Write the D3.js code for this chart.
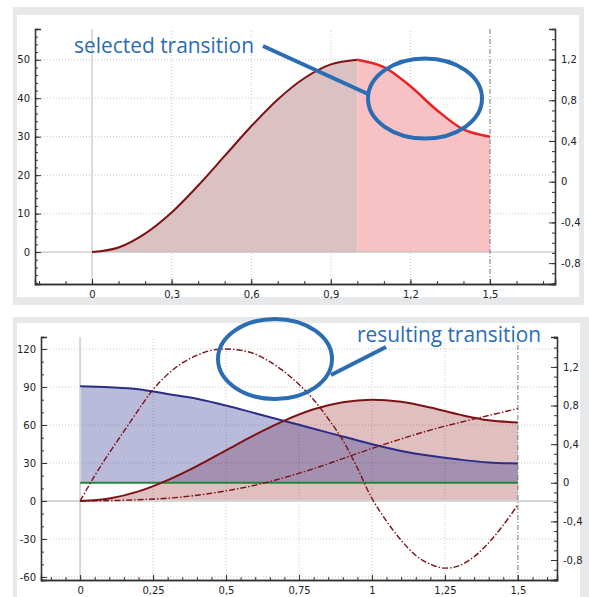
<!DOCTYPE html>
<html>
<head>
<meta charset="utf-8">
<script src="https://cdn.jsdelivr.net/npm/d3@7"></script>
<style>
  body { margin: 0; background: #fff; }
  svg { display: block; }
  .tick text { font-family: "DejaVu Sans", sans-serif; font-size: 10px; fill: #222; }
</style>
</head>
<body>
<script>
'use strict';

// top chart: selected transition (left axis units)
const topX = [0, 0.1, 0.2, 0.3, 0.4, 0.5, 0.6, 0.7, 0.8, 0.9, 1.0];
const topY = [0, 1.2, 4.8, 10.3, 17.3, 25, 32.7, 39.7, 45.2, 48.8, 50];
const selX = [1.0, 1.1, 1.2, 1.3, 1.4, 1.5];
const selY = [50, 48.1, 43.1, 36.9, 31.9, 30];

const topXTicks = [0, 0.3, 0.6, 0.9, 1.2, 1.5];
const topLeftTicks = [0, 10, 20, 30, 40, 50];
const topRightTicks = [-0.8, -0.4, 0, 0.4, 0.8, 1.2];

// bottom chart: resulting transition
const botX = [0, 0.1, 0.2, 0.3, 0.4, 0.5, 0.6, 0.7, 0.8, 0.9, 1.0, 1.1, 1.2, 1.3, 1.4, 1.5];
const botPos = [0, 2, 7.6, 16.5, 27.6, 40, 52.4, 63.5, 72.4, 78, 80, 78.3, 73.8, 68.2, 63.7, 62];
const botSlow = [0, 0.3, 1, 2.2, 4.5, 8, 12.5, 18.5, 25.5, 33.5, 41.5, 49, 56, 62, 67.5, 73];
const botBlue = [1.0, 0.99, 0.97, 0.92, 0.87, 0.80, 0.72, 0.64, 0.56, 0.48, 0.40, 0.33, 0.28, 0.24, 0.21, 0.20]; // right axis
const fastX = [0, 0.05, 0.1, 0.15, 0.2, 0.25, 0.3, 0.35, 0.4, 0.45, 0.5, 0.55, 0.6, 0.65, 0.7, 0.75,
               0.8, 0.85, 0.9, 0.95, 1.0, 1.05, 1.1, 1.15, 1.2, 1.25, 1.3, 1.35, 1.4, 1.45, 1.5];
const fastY = [0, 20, 38, 55, 72, 88, 100, 109, 115, 119, 120, 119, 116, 110, 102, 92,
               80, 65, 48, 26, 2, -16, -31, -43, -50, -53, -51, -44, -33, -19, -3];
const greenX = [0, 1.5];
const greenY = [0, 0]; // right axis

const botXTicks = [0, 0.25, 0.5, 0.75, 1, 1.25, 1.5];
const botLeftTicks = [-60, -30, 0, 30, 60, 90, 120];
const botRightTicks = [-0.8, -0.4, 0, 0.4, 0.8, 1.2];

const fmt = d => String(d).replace('.', ',');
const blue = '#2b6db4';
const darkRed = '#7d1115';
const curve = d3.curveCatmullRom.alpha(0.5);

const svg = d3.select('body').append('svg')
    .attr('width', 589)
    .attr('height', 597);

// panel frames
svg.append('rect').attr('x', 13).attr('y', 7).attr('width', 571).attr('height', 298).attr('fill', '#e7e8e9');
svg.append('rect').attr('x', 17).attr('y', 15).attr('width', 562).attr('height', 282).attr('fill', '#fff');
svg.append('rect').attr('x', 13).attr('y', 317).attr('width', 576).attr('height', 280).attr('fill', '#e7e8e9');
svg.append('rect').attr('x', 17).attr('y', 323).attr('width', 563).attr('height', 274).attr('fill', '#fff');

function grid(g, x, y, xt, yt) {
    const [x0, x1] = x.range();
    const [y0, y1] = y.range();
    g.selectAll('.vg').data(xt).enter().append('line')
        .attr('x1', d => x(d)).attr('x2', d => x(d))
        .attr('y1', y0).attr('y2', y1)
        .attr('stroke', '#c8c8c8').attr('stroke-dasharray', '1,2');
    g.selectAll('.hg').data(yt).enter().append('line')
        .attr('x1', x0).attr('x2', x1)
        .attr('y1', d => y(d)).attr('y2', d => y(d))
        .attr('stroke', '#c8c8c8').attr('stroke-dasharray', '1,2');
}

function axes(x, yl, yr, xt, xm, ylt, ylm, yrt, yrm) {
    const [x0, x1] = x.range();
    const yb = yl.range()[0];
    const style = g => {
        g.select('.domain').attr('stroke', '#333').attr('stroke-width', 1.3);
        g.selectAll('.tick line').attr('stroke', '#333');
    };
    // minor ticks
    svg.append('g').attr('transform', `translate(0,${yb})`)
        .call(d3.axisBottom(x).tickValues(xm).tickSize(-3).tickFormat('')).call(style);
    svg.append('g').attr('transform', `translate(${x0},0)`)
        .call(d3.axisLeft(yl).tickValues(ylm).tickSize(-3).tickFormat('')).call(style);
    svg.append('g').attr('transform', `translate(${x1},0)`)
        .call(d3.axisRight(yr).tickValues(yrm).tickSize(-3).tickFormat('')).call(style);
    // major ticks
    svg.append('g').attr('transform', `translate(0,${yb})`)
        .call(d3.axisBottom(x).tickValues(xt).tickSize(-5).tickPadding(7).tickFormat(fmt)).call(style);
    svg.append('g').attr('transform', `translate(${x0},0)`)
        .call(d3.axisLeft(yl).tickValues(ylt).tickSize(-6).tickPadding(5).tickFormat(fmt)).call(style);
    svg.append('g').attr('transform', `translate(${x1},0)`)
        .call(d3.axisRight(yr).tickValues(yrt).tickSize(-6).tickPadding(6).tickFormat(fmt)).call(style);
}

function ticksBetween(a, b, step) {
    const out = [];
    for (let v = a; v <= b + 1e-9; v += step) out.push(Math.round(v * 1000) / 1000);
    return out;
}

// ---------- top chart ----------
(function() {
    const x = d3.scaleLinear().domain([-0.215, 1.745]).range([35, 555]);
    const yl = d3.scaleLinear().domain([-8.3, 58]).range([284, 29]);
    const yr = d3.scaleLinear().domain([-1.005, 1.5]).range([284, 29]);
    const g = svg.append('g');

    grid(g, x, yl, topXTicks.filter(d => d !== 0 && d !== 1.5), topLeftTicks.filter(d => d !== 0));

    const pts = topX.map((d, i) => [d, topY[i]]);
    const sel = selX.map((d, i) => [d, selY[i]]);
    const area = d3.area().x(d => x(d[0])).y0(yl(0)).y1(d => yl(d[1])).curve(curve);
    const line = d3.line().x(d => x(d[0])).y(d => yl(d[1])).curve(curve);

    g.append('path').datum(pts).attr('d', area).attr('fill', '#dcc1c3');
    g.append('path').datum(sel).attr('d', area).attr('fill', '#f8c1c3');

    // zero lines
    g.append('line').attr('x1', x.range()[0]).attr('x2', x.range()[1])
        .attr('y1', yl(0)).attr('y2', yl(0)).attr('stroke', '#b8b8b8');
    g.append('line').attr('x1', x(0)).attr('x2', x(0))
        .attr('y1', yl.range()[0]).attr('y2', yl.range()[1]).attr('stroke', '#b8b8b8');
    g.append('line').attr('x1', x(1.5)).attr('x2', x(1.5))
        .attr('y1', yl.range()[0]).attr('y2', yl.range()[1])
        .attr('stroke', '#777').attr('stroke-dasharray', '5,2,1,2');

    g.append('path').datum(pts).attr('d', line).attr('fill', 'none')
        .attr('stroke', darkRed).attr('stroke-width', 2);
    g.append('path').datum(sel).attr('d', line).attr('fill', 'none')
        .attr('stroke', '#e82326').attr('stroke-width', 2.5);

    axes(x, yl, yr, topXTicks, ticksBetween(-0.2, 1.7, 0.1),
        topLeftTicks, ticksBetween(-8, 58, 2), topRightTicks, ticksBetween(-1.0, 1.5, 0.1));

    // annotation
    svg.append('text').attr('x', 74).attr('y', 53)
        .attr('font-family', '"Open Sans", sans-serif').attr('font-size', 21)
        .attr('textLength', 180).attr('lengthAdjust', 'spacingAndGlyphs')
        .attr('fill', blue).text('selected transition');
    svg.append('line').attr('x1', 263).attr('y1', 46).attr('x2', 368).attr('y2', 94)
        .attr('stroke', blue).attr('stroke-width', 4);
    svg.append('ellipse').attr('cx', 425).attr('cy', 98.5).attr('rx', 57).attr('ry', 40)
        .attr('fill', 'none').attr('stroke', blue).attr('stroke-width', 4);
})();

// ---------- bottom chart ----------
(function() {
    const x = d3.scaleLinear().domain([-0.134, 1.634]).range([41, 557]);
    const yl = d3.scaleLinear().domain([-62.4, 129.5]).range([580, 337]);
    const yr = d3.scaleLinear().domain([-1.007, 1.51]).range([580, 337]);
    const g = svg.append('g');

    grid(g, x, yl, botXTicks.filter(d => d !== 0 && d !== 1.5), botLeftTicks.filter(d => d !== 0));

    const pos = botX.map((d, i) => [d, botPos[i]]);
    const slow = botX.map((d, i) => [d, botSlow[i]]);
    const bl = botX.map((d, i) => [d, botBlue[i]]);
    const fast = fastX.map((d, i) => [d, fastY[i]]);
    const gr = greenX.map((d, i) => [d, greenY[i]]);

    const lineL = d3.line().x(d => x(d[0])).y(d => yl(d[1])).curve(curve);
    const lineR = d3.line().x(d => x(d[0])).y(d => yr(d[1])).curve(curve);

    g.append('path').datum(pos)
        .attr('d', d3.area().x(d => x(d[0])).y0(yl(0)).y1(d => yl(d[1])).curve(curve))
        .attr('fill', '#800000').attr('fill-opacity', 0.25);
    g.append('path').datum(bl)
        .attr('d', d3.area().x(d => x(d[0])).y0(yr(0)).y1(d => yr(d[1])).curve(curve))
        .attr('fill', '#2e3192').attr('fill-opacity', 0.33);

    g.append('line').attr('x1', x.range()[0]).attr('x2', x.range()[1])
        .attr('y1', yl(0)).attr('y2', yl(0)).attr('stroke', '#d6d6d6').attr('stroke-width', 2);
    g.append('line').attr('x1', x(0)).attr('x2', x(0))
        .attr('y1', yl.range()[0]).attr('y2', yl.range()[1]).attr('stroke', '#d6d6d6').attr('stroke-width', 2);
    g.append('line').attr('x1', x(1.5)).attr('x2', x(1.5))
        .attr('y1', yl.range()[0]).attr('y2', yl.range()[1])
        .attr('stroke', '#777').attr('stroke-dasharray', '5,2,1,2');

    g.append('path').datum(gr).attr('d', lineR).attr('fill', 'none')
        .attr('stroke', '#23873a').attr('stroke-width', 2);
    g.append('path').datum(bl).attr('d', lineR).attr('fill', 'none')
        .attr('stroke', '#2b2d86').attr('stroke-width', 2);
    g.append('path').datum(pos).attr('d', lineL).attr('fill', 'none')
        .attr('stroke', darkRed).attr('stroke-width', 2);
    g.append('path').datum(slow).attr('d', lineL).attr('fill', 'none')
        .attr('stroke', darkRed).attr('stroke-width', 1.4).attr('stroke-dasharray', '6,2,1.5,2');
    g.append('path').datum(fast).attr('d', lineL).attr('fill', 'none')
        .attr('stroke', darkRed).attr('stroke-width', 1.4).attr('stroke-dasharray', '6,2,1.5,2');

    axes(x, yl, yr, botXTicks, ticksBetween(-0.1, 1.6, 0.05),
        botLeftTicks, ticksBetween(-60, 120, 10), botRightTicks, ticksBetween(-1.0, 1.5, 0.1));

    svg.append('text').attr('x', 357).attr('y', 342)
        .attr('font-family', '"Open Sans", sans-serif').attr('font-size', 22)
        .attr('textLength', 184).attr('lengthAdjust', 'spacingAndGlyphs')
        .attr('fill', blue).text('resulting transition');
    svg.append('line').attr('x1', 386).attr('y1', 347).attr('x2', 331).attr('y2', 375)
        .attr('stroke', blue).attr('stroke-width', 4);
    svg.append('ellipse').attr('cx', 275).attr('cy', 359).attr('rx', 57).attr('ry', 40)
        .attr('fill', 'none').attr('stroke', blue).attr('stroke-width', 4);
})();
</script>
</body>
</html>
